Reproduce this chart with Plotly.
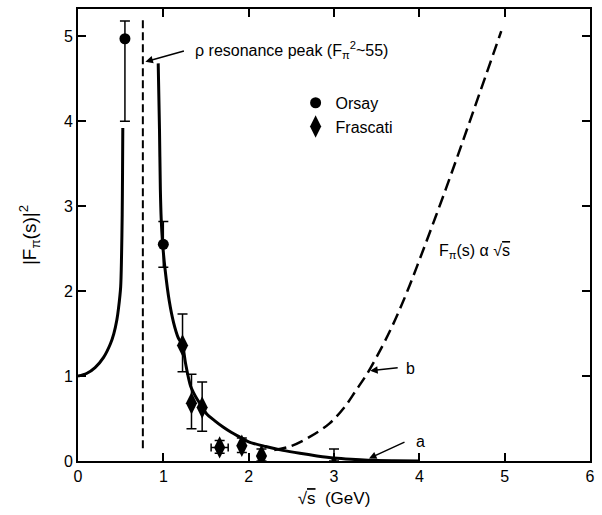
import plotly.graph_objects as go

# Pion form factor |F_pi(s)|^2 versus sqrt(s)

# Orsay measurements
orsay_x = [0.55, 1.0]
orsay_y = [4.97, 2.55]
orsay_err_plus = [0.21, 0.27]
orsay_err_minus = [0.97, 0.27]

# Orsay high-energy point (near zero, upper error only visible)
orsay_hi_x = [3.0]
orsay_hi_y = [0.02]
orsay_hi_err_plus = [0.12]
orsay_hi_err_minus = [0.02]

# Frascati measurements
frascati_x = [1.225, 1.33, 1.455, 1.66, 1.92, 2.15]
frascati_y = [1.36, 0.68, 0.63, 0.16, 0.18, 0.06]
frascati_err_plus = [0.37, 0.34, 0.30, 0.08, 0.09, 0.08]
frascati_err_minus = [0.31, 0.30, 0.28, 0.07, 0.08, 0.06]
frascati_xerr = [0, 0, 0, 0.10, 0, 0]

# Curve a: rho-dominance fit, left and right of the resonance
curve_a_left_x = [0.0, 0.1, 0.2, 0.3, 0.38, 0.42, 0.455, 0.475, 0.5, 0.51, 0.518, 0.522, 0.525]
curve_a_left_y = [1.0, 1.03, 1.1, 1.22, 1.38, 1.5, 1.66, 1.8, 2.05, 2.4, 2.9, 3.4, 3.92]
curve_a_right_x = [0.94, 0.955, 0.965, 0.975, 0.99, 1.02, 1.07, 1.12, 1.175, 1.225,
                   1.26, 1.32, 1.4, 1.455, 1.506, 1.6, 1.7, 1.8, 1.9, 2.0,
                   2.2, 2.4, 2.6, 2.8, 3.0, 3.2, 3.4, 3.7, 4.0]
curve_a_right_y = [4.68, 3.9, 3.2, 2.85, 2.58, 2.26, 1.88, 1.63, 1.45, 1.36,
                   1.15, 0.88, 0.72, 0.64, 0.556, 0.475, 0.40, 0.335, 0.28, 0.225,
                   0.17, 0.125, 0.09, 0.06, 0.035, 0.02, 0.01, 0.004, 0.0]

# Curve b: F_pi(s) proportional to sqrt(s)
curve_b_x = [2.3, 2.48, 2.71, 2.945, 3.12, 3.257, 3.39, 3.55, 3.665, 3.76,
             3.86, 3.976, 4.31, 4.62, 4.96]
curve_b_y = [0.13, 0.17, 0.28, 0.44, 0.63, 0.83, 1.03, 1.32, 1.55, 1.76,
             2.0, 2.3, 3.2, 4.08, 5.06]

# rho mass marker line
rho_x = [0.76, 0.76]
rho_y = [0.15, 5.2]

x_ticks = [0, 1, 2, 3, 4, 5, 6]
y_ticks = [0, 1, 2, 3, 4, 5]

FONT = "Liberation Sans"

fig = go.Figure()

for cx, cy in ((curve_a_left_x, curve_a_left_y), (curve_a_right_x, curve_a_right_y)):
    fig.add_trace(go.Scatter(
        x=cx, y=cy, mode="lines",
        line=dict(color="black", width=3, shape="spline", smoothing=0.8),
        showlegend=False, hoverinfo="skip"))

fig.add_trace(go.Scatter(
    x=curve_b_x, y=curve_b_y, mode="lines",
    line=dict(color="black", width=2.5, dash="12px,6px", shape="spline", smoothing=1.0),
    showlegend=False, hoverinfo="skip"))

fig.add_trace(go.Scatter(
    x=rho_x, y=rho_y, mode="lines",
    line=dict(color="black", width=2, dash="8px,4px"),
    showlegend=False, hoverinfo="skip"))

err_style = dict(type="data", symmetric=False, color="black", thickness=1.5, width=5)

fig.add_trace(go.Scatter(
    x=orsay_x, y=orsay_y, mode="markers", name="Orsay", legendgroup="orsay",
    marker=dict(symbol="circle", size=11, color="black", line=dict(width=0)),
    error_y=dict(array=orsay_err_plus, arrayminus=orsay_err_minus, **err_style)))

fig.add_trace(go.Scatter(
    x=orsay_hi_x, y=orsay_hi_y, mode="markers", name="Orsay", legendgroup="orsay",
    showlegend=False,
    marker=dict(symbol="circle", size=5, color="black", line=dict(width=0)),
    error_y=dict(array=orsay_hi_err_plus, arrayminus=orsay_hi_err_minus, **err_style)))

fig.add_trace(go.Scatter(
    x=frascati_x, y=frascati_y, mode="markers", name="Frascati",
    marker=dict(symbol="diamond-tall", size=16, color="black", line=dict(width=0)),
    error_y=dict(array=frascati_err_plus, arrayminus=frascati_err_minus, **err_style),
    error_x=dict(type="data", array=frascati_xerr, color="black", thickness=1.5, width=4)))

axis_common = dict(
    showgrid=False, zeroline=False, showline=True, linecolor="black", linewidth=2,
    mirror="ticks", ticks="inside", ticklen=8, tickwidth=1.5, tickcolor="black",
    tickfont=dict(family=FONT, size=16, color="black"))

fig.update_xaxes(range=[0, 6], tickvals=x_ticks, **axis_common,
                 title=dict(text="√<span style='text-decoration:overline'>s</span>  (GeV)",
                            font=dict(family=FONT, size=17, color="black"), standoff=8))
fig.update_yaxes(range=[0, 5.32], tickvals=y_ticks, **axis_common,
                 title=dict(text="|F<sub>π</sub>(s)|<sup>2</sup>",
                            font=dict(family=FONT, size=19, color="black"), standoff=22))

annot_font = dict(family=FONT, size=16, color="black")
fig.add_annotation(x=1.346, y=4.84, xref="x", yref="y", xanchor="left", yanchor="middle",
                   text="ρ resonance peak (F<sub>π</sub><sup>2</sup>~55)",
                   showarrow=False, font=annot_font)
fig.add_annotation(x=0.79, y=4.70, xref="x", yref="y", text="", showarrow=True,
                   ax=40, ay=-11, arrowhead=2, arrowsize=1, arrowwidth=1.5, arrowcolor="black")
fig.add_annotation(x=4.65, y=2.47, xref="x", yref="y",
                   text="F<sub>π</sub>(s) α √<span style='text-decoration:overline'>s</span>",
                   showarrow=False, font=annot_font)
fig.add_annotation(x=3.90, y=1.085, xref="x", yref="y", text="b", showarrow=False, font=annot_font)
fig.add_annotation(x=3.424, y=1.063, xref="x", yref="y", text="", showarrow=True,
                   ax=29, ay=-3, arrowhead=2, arrowsize=1, arrowwidth=1.5, arrowcolor="black")
fig.add_annotation(x=4.01, y=0.23, xref="x", yref="y", text="a", showarrow=False, font=annot_font)
fig.add_annotation(x=3.41, y=0.03, xref="x", yref="y", text="", showarrow=True,
                   ax=37, ay=-17, arrowhead=2, arrowsize=1, arrowwidth=1.5, arrowcolor="black")

fig.update_layout(
    width=602, height=515,
    margin=dict(l=78, r=10, t=7, b=54),
    paper_bgcolor="white", plot_bgcolor="white",
    font=dict(family=FONT, color="black"),
    legend=dict(x=0.425, y=0.83, xanchor="left", yanchor="top",
                bgcolor="rgba(0,0,0,0)", font=dict(family=FONT, size=16, color="black"),
                itemwidth=30, tracegroupgap=0),
)

fig.write_html("out.html")
